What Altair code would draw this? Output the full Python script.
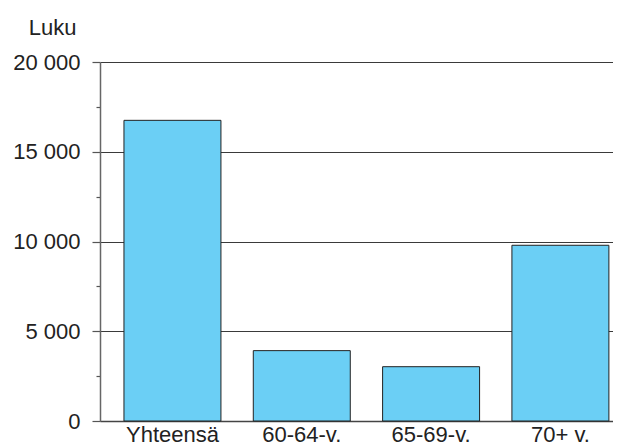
import altair as alt
import pandas as pd

categories = ["Yhteensä", "60-64-v.", "65-69-v.", "70+ v."]
values = [16750, 3920, 3025, 9790]
y_ticks = [0, 2500, 5000, 7500, 10000, 12500, 15000, 17500, 20000]

df = pd.DataFrame({"cat": categories, "val": values})

FONT = "Liberation Sans"

chart = alt.Chart(df).mark_bar(
    fill="#6BCFF5", stroke="#222222", strokeWidth=1
).encode(
    x=alt.X("cat:N", sort=categories, title=None,
            scale=alt.Scale(paddingInner=0.25, paddingOuter=0.1085, align=0.854),
            axis=alt.Axis(ticks=False, labelAngle=0, labelPadding=3, labelFontSize=22,
                          labelFont=FONT, labelColor="#222222", domainColor="#444444",
                          domainWidth=1.5, grid=False)),
    y=alt.Y("val:Q", scale=alt.Scale(domain=[0, 20000], nice=False),
            axis=alt.Axis(values=y_ticks, title="Luku", titleAngle=0, titleAlign="right",
                          titleBaseline="alphabetic", titleX=-24, titleY=-28,
                          titleFont=FONT, titleFontSize=22, titleFontWeight="normal",
                          titleColor="#222222",
                          labelExpr="datum.value % 5000 === 0 ? replace(format(datum.value, ','), ',', ' ') : ''",
                          labelFont=FONT, labelFontSize=22, labelColor="#222222", labelPadding=12,
                          tickSize={"condition": {"test": "datum.value % 5000 === 0", "value": 8}, "value": 4},
                          tickColor="#555555", tickWidth=1.2,
                          grid=True,
                          gridOpacity={"condition": {"test": "datum.value % 5000 === 0", "value": 1}, "value": 0},
                          gridColor="#3a3a3a", gridWidth=1.2,
                          domainColor="#666666", domainWidth=1.5)),
).properties(
    width=513, height=359,
    autosize=alt.AutoSizeParams(type="none"),
    padding={"left": 92, "top": 54, "right": 0, "bottom": 25},
).configure_view(stroke=None)

chart.save("out.html", embed_options={"renderer": "svg", "actions": False})
